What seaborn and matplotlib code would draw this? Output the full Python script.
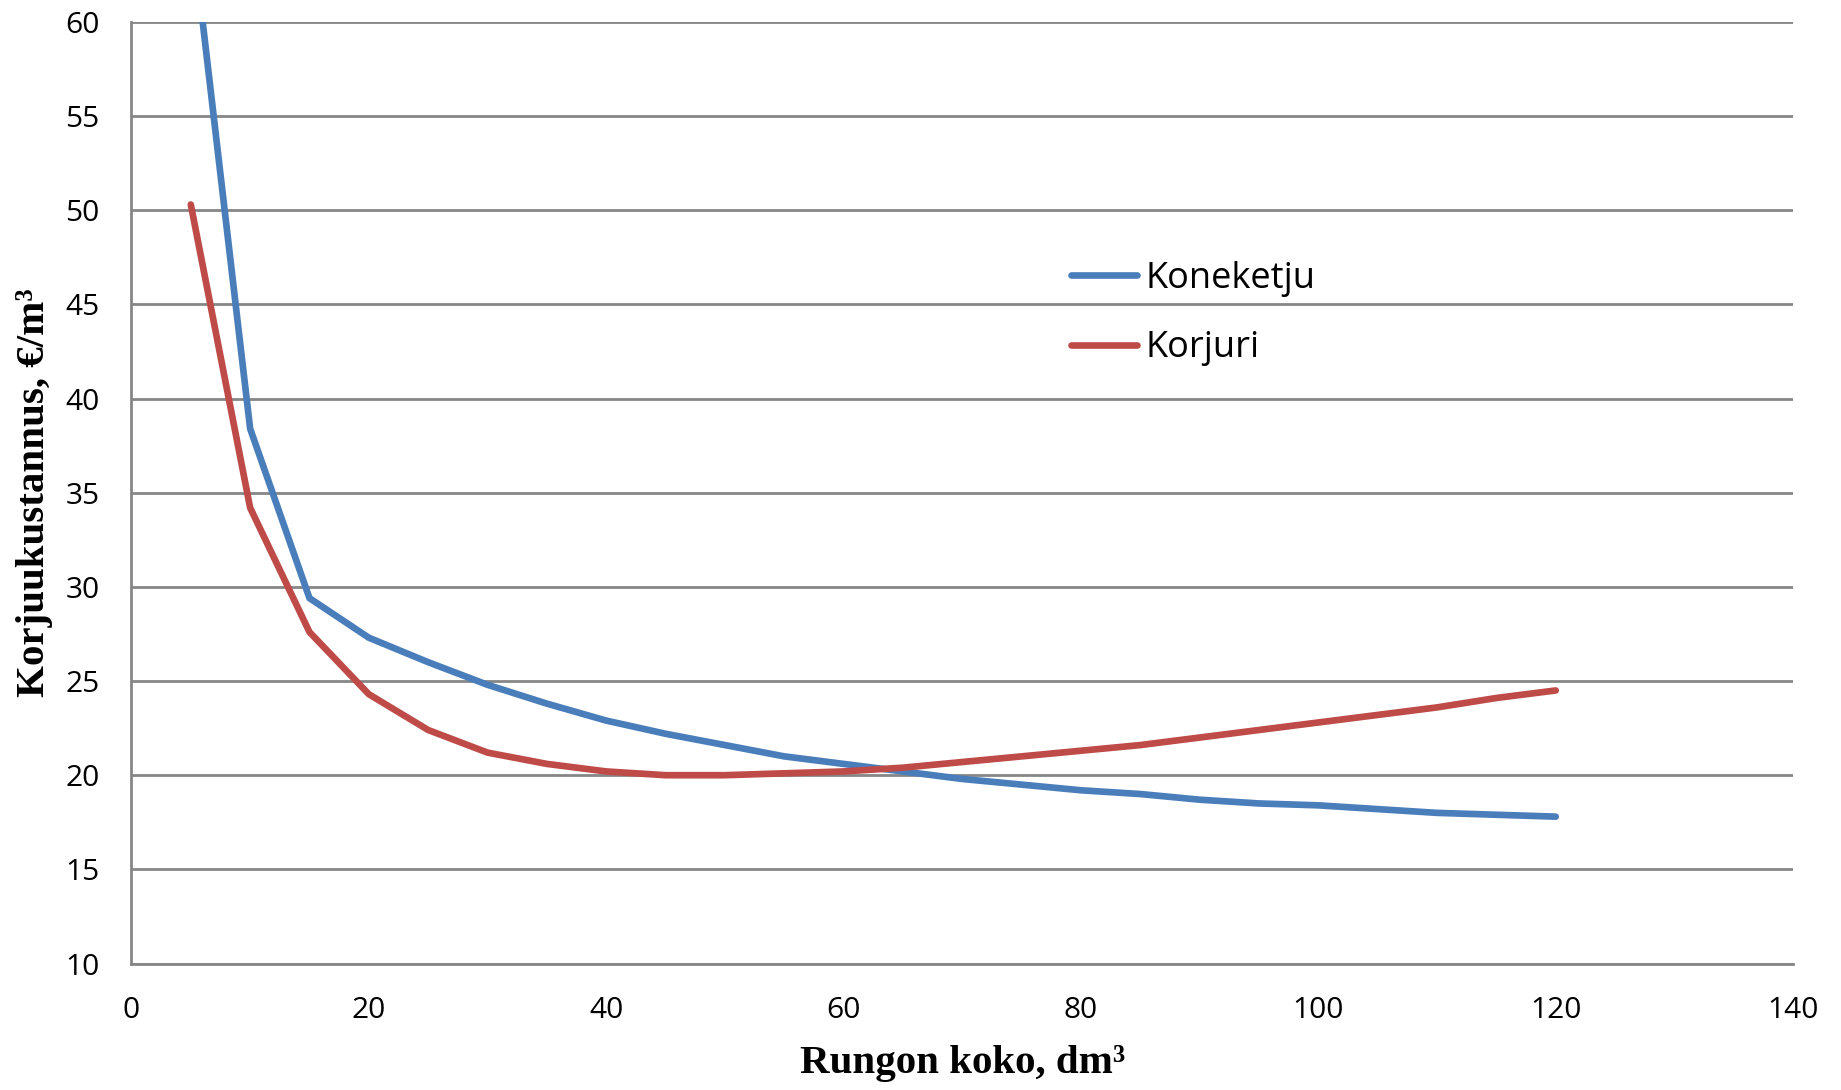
import numpy as np
import pandas as pd
import seaborn as sns
import matplotlib.pyplot as plt

# rungon koko (dm3)
koko = [5, 10, 15, 20, 25, 30, 35, 40, 45, 50, 55, 60, 65, 70, 75, 80,
        85, 90, 95, 100, 105, 110, 115, 120]

# korjuukustannus, e/m3
koneketju = [65.4, 38.4, 29.4, 27.3, 26.0, 24.8, 23.8, 22.9, 22.2, 21.6,
             21.0, 20.6, 20.2, 19.8, 19.5, 19.2, 19.0, 18.7, 18.5, 18.4,
             18.2, 18.0, 17.9, 17.8]
korjuri = [50.3, 34.2, 27.6, 24.3, 22.4, 21.2, 20.6, 20.2, 20.0, 20.0,
           20.1, 20.2, 20.4, 20.7, 21.0, 21.3, 21.6, 22.0, 22.4, 22.8,
           23.2, 23.6, 24.1, 24.5]

df = pd.DataFrame({'koko': koko * 2,
                   'kustannus': koneketju + korjuri,
                   'sarja': ['Koneketju'] * len(koko) + ['Korjuri'] * len(koko)})

sns.set_style('white')
plt.rcParams['font.family'] = ['Open Sans', 'DejaVu Sans']

fig = plt.figure(figsize=(18.41, 10.90), dpi=100)
ax = fig.add_axes([0.0714, 0.116, 0.9026, 0.864])

sns.lineplot(data=df, x='koko', y='kustannus', hue='sarja',
             palette=['#4a7ebb', '#be4b48'], linewidth=4.8, ax=ax,
             solid_capstyle='round')

ax.set_xlim(0, 140)
ax.set_ylim(10, 60)
ax.set_xticks(range(0, 141, 20))
ax.set_yticks(range(10, 61, 5))
ax.grid(axis='y', color='#868686', linewidth=2)
ax.set_axisbelow(True)
for s in ['top', 'right']:
    ax.spines[s].set_visible(False)
for s in ['left', 'bottom']:
    ax.spines[s].set_color('#868686')
    ax.spines[s].set_linewidth(2)
ax.tick_params(axis='both', labelsize=21.5, colors='black', length=0, pad=23)

ax.set_xlabel('Rungon koko, dm³', fontsize=29.5, fontweight='bold',
              family='Liberation Serif', labelpad=15, color='black')
ax.set_ylabel('Korjuukustannus, €/m³', fontsize=29.5, fontweight='bold',
              family='Liberation Serif', labelpad=9, color='black')

leg = ax.legend(loc='upper left', bbox_to_anchor=(0.5655, 0.746), frameon=False,
                fontsize=26, handlelength=1.83, handletextpad=0.22,
                labelspacing=0.92, borderpad=0, borderaxespad=0)
for t in leg.get_texts():
    t.set_color('black')

fig.savefig('out.png', dpi=100)
